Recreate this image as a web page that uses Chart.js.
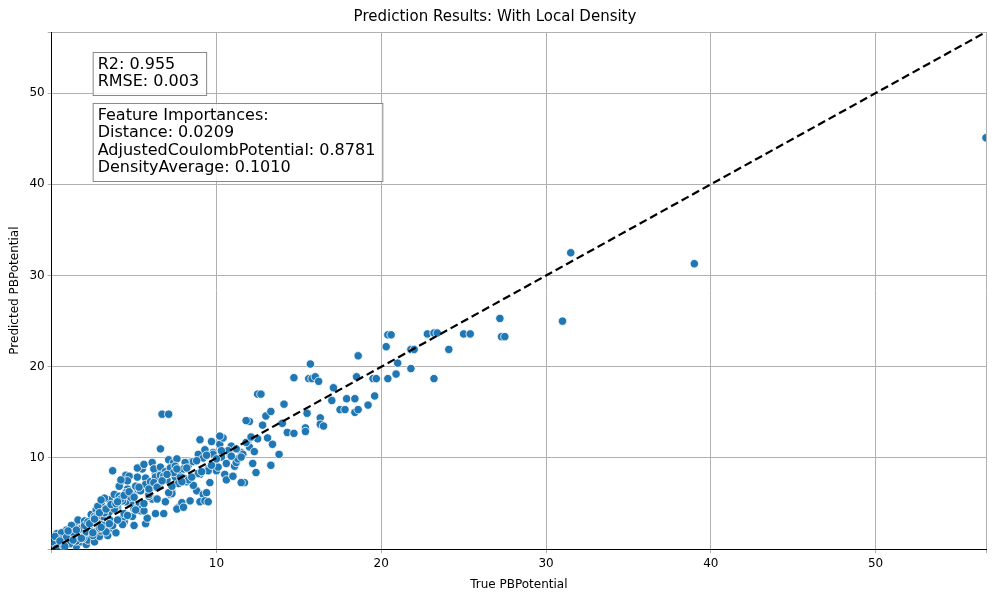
<!DOCTYPE html>
<html>
<head>
<meta charset="utf-8">
<script src="https://cdn.jsdelivr.net/npm/chart.js@4.4.0/dist/chart.umd.min.js"></script>
<style>
	html, body { margin: 0; padding: 0; background: #fff; }
	#wrap { width: 1000px; height: 600px; }
</style>
</head>
<body>
<div id="wrap"><canvas id="c" width="1000" height="600"></canvas></div>
<script>
// True vs predicted PBPotential
var trueVals = [
	0.2,0.4,0.5,0.7,0.8,1.0,1.1,1.2,1.3,1.5,1.6,1.7,1.8,1.9,2.0,2.1,2.2,2.3,2.4,2.5,
	0.3,0.6,0.9,1.1,1.4,1.6,1.9,2.2,2.4,2.6,2.7,2.8,2.9,3.0,3.1,3.2,3.3,3.4,3.5,3.6,
	2.6,2.8,3.0,3.2,3.4,3.6,3.8,4.0,4.2,4.4,4.6,4.8,5.0,5.2,5.4,3.7,3.9,4.1,4.3,4.5,
	4.1,4.3,4.5,4.7,4.9,5.1,5.3,5.5,5.7,5.9,6.1,6.3,4.4,4.6,4.8,5.0,5.2,5.6,5.8,6.0,
	5.5,5.7,5.9,6.1,6.3,6.5,6.7,6.9,7.1,7.3,7.5,7.7,6.2,6.4,6.6,6.8,7.0,7.2,7.4,7.6,
	7.0,7.3,7.6,7.9,8.2,8.5,8.8,9.1,7.8,8.0,8.3,8.6,8.9,9.2,9.5,9.8,8.1,8.4,8.7,9.0,
	9.3,9.6,9.9,10.2,10.5,10.8,11.1,9.4,9.7,10.0,10.3,10.6,10.9,11.2,11.5,10.1,10.4,10.7,11.0,11.3,
	11.6,11.9,12.2,12.5,11.7,12.0,12.3,12.8,13.1,13.4,9.0,9.3,9.5,5.6,5.9,2.0,1.2,0.6,3.0,4.2,
	0.1,0.3,0.5,0.7,0.9,1.1,1.3,1.5,1.7,1.9,2.1,2.3,2.5,2.7,2.9,3.1,3.3,3.5,3.7,3.9,
	0.2,0.5,0.8,1.0,1.3,1.5,1.8,2.0,2.2,2.5,2.7,3.0,3.2,3.5,3.8,4.0,4.3,4.6,4.9,5.1,
	2.3,2.6,2.9,3.3,3.6,3.9,4.2,4.5,4.8,5.1,5.4,5.7,6.0,6.3,6.6,6.9,7.2,7.5,7.8,8.1,
	4.0,4.4,4.7,5.0,5.3,5.6,5.9,6.2,6.5,6.8,7.1,7.4,7.7,8.0,8.3,8.6,8.9,9.2,9.5,9.8,
	6.4,6.7,7.0,7.3,7.6,7.9,8.2,8.5,8.8,9.1,9.4,9.7,10.0,10.3,10.6,10.9,11.2,11.5,11.8,12.1,
	6.7,7.1,6.6,9.0,10.2,11.5,12.4,12.5,12.7,12.0,11.8,13.0,13.3,13.3,13.8,14.0,14.1,14.3,14.7,14.7,
	15.4,15.4,15.5,15.6,15.7,15.8,16.0,16.2,16.3,16.3,16.5,17.0,17.1,17.5,17.8,17.9,18.4,18.4,18.5,18.6,
	18.6,19.2,19.5,19.6,19.7,20.3,20.4,20.4,20.6,20.9,21.0,21.8,21.8,22.0,22.8,23.2,23.2,23.4,24.1,25.0,
	25.4,27.2,27.3,27.5,31.0,31.5,39.0,56.7
];
var predVals = [
	0.5,1.2,0.2,1.6,0.4,1.0,2.0,0.6,1.5,0.3,2.4,1.2,0.8,2.7,1.6,0.5,2.9,1.3,2.0,3.4,
	1.7,0.3,2.1,0.7,2.6,3.2,2.4,1.0,3.8,0.8,4.3,2.1,1.4,5.0,3.3,2.6,4.4,1.5,5.4,3.1,
	3.6,4.7,2.0,5.6,3.9,2.3,6.0,4.6,7.4,3.0,6.6,5.0,2.6,7.9,4.2,8.6,1.8,5.8,3.4,8.1,
	6.9,2.7,5.2,8.0,3.6,6.4,4.8,8.8,2.8,7.1,5.5,8.3,3.9,7.5,6.1,4.4,8.9,9.3,3.4,6.7,
	4.5,7.8,5.8,9.5,3.9,7.0,8.4,5.2,9.8,6.3,7.9,4.6,8.8,5.5,9.0,3.9,7.6,6.0,9.5,4.4,
	8.6,6.1,9.9,5.1,7.4,9.6,6.4,10.3,8.0,4.6,9.2,7.0,10.4,6.0,8.8,10.6,7.7,5.3,9.6,8.2,
	10.9,7.3,9.4,11.5,8.2,10.5,9.1,6.2,11.8,8.6,10.1,7.6,11.3,9.5,10.6,9.0,12.2,10.8,8.0,9.9,
	10.4,11.6,9.4,12.1,7.3,11.2,10.7,13.6,12.2,11.5,5.2,5.3,5.2,4.2,6.0,3.1,2.6,1.8,5.4,7.6,
	0.8,0.1,1.1,0.4,1.3,0.6,1.8,0.9,2.2,1.2,1.9,2.8,1.5,3.2,2.3,3.6,1.9,4.1,2.6,4.6,
	1.4,0.9,0.3,2.0,1.0,2.1,1.2,2.6,3.0,1.8,3.5,2.4,4.0,2.8,4.4,3.2,5.3,3.7,5.9,4.3,
	2.8,3.3,4.0,4.4,4.9,5.0,5.5,6.2,5.7,6.9,6.4,7.1,7.4,7.9,8.1,8.5,8.9,9.1,8.7,9.5,
	5.2,5.9,6.3,5.7,6.8,5.0,6.6,7.3,6.9,8.0,6.2,8.4,7.2,8.8,7.6,9.6,8.3,10.0,8.6,10.4,
	6.8,7.5,8.2,6.9,8.8,7.4,8.9,7.9,9.7,8.5,10.3,9.2,9.9,10.8,9.4,10.2,11.0,10.1,11.7,12.3,
	14.8,14.8,11.0,12.0,12.4,7.3,8.4,17.0,17.0,14.0,14.1,14.6,15.1,9.2,10.4,13.8,15.9,12.8,18.8,12.7,
	13.3,12.9,14.9,18.7,20.3,18.7,18.9,18.4,14.4,13.7,13.5,16.3,17.7,15.3,15.3,16.5,15.0,16.5,18.9,21.2,
	15.3,15.8,18.7,16.8,18.7,22.2,23.5,18.7,23.5,19.2,20.4,19.8,21.9,21.9,23.6,18.7,23.7,23.7,21.9,23.6,
	23.6,25.3,23.3,23.3,25.0,32.5,31.3,45.1
];
var axisMax = 56.7;
var chartTitle = 'Prediction Results: With Local Density';
var statLines = ['R2: 0.955', 'RMSE: 0.003'];
var importanceLines = ['Feature Importances:', 'Distance: 0.0209', 'AdjustedCoulombPotential: 0.8781', 'DensityAverage: 0.1010'];

var points = trueVals.map(function(x, i) { return { x: x, y: predVals[i] }; });

// Matplotlib-style text boxes, placed relative to the plot area
var textBoxes = {
	id: 'textBoxes',
	afterDatasetsDraw: function(chart) {
		var c = chart.ctx, a = chart.chartArea;
		function box(lines, left, top) {
			c.save();
			c.font = '16px "DejaVu Sans"';
			var w = 0;
			lines.forEach(function(l) { w = Math.max(w, c.measureText(l).width); });
			var lh = 17.5, h = lines.length * lh + 8;
			c.fillStyle = 'rgba(255,255,255,0.8)';
			c.fillRect(left, top, w + 12, h);
			c.strokeStyle = '#888';
			c.lineWidth = 1;
			c.strokeRect(left + 0.5, top + 0.5, w + 12, h);
			c.fillStyle = '#000';
			c.textBaseline = 'middle';
			lines.forEach(function(l, i) { c.fillText(l, left + 5, top + 4 + lh * (i + 0.5)); });
			c.restore();
		}
		box(statLines, a.left + 41, a.top + 20);
		box(importanceLines, a.left + 41, a.top + 71);
	}
};

function hideEnds(v) {
	return (v === 0 || v === axisMax) ? '' : v;
}

new Chart(document.getElementById('c'), {
	type: 'scatter',
	data: {
		datasets: [
			{
				data: points,
				backgroundColor: '#1f77b4',
				borderColor: '#ffffff',
				borderWidth: 0.8,
				pointRadius: 4.2,
				order: 2
			},
			{
				type: 'line',
				data: [{ x: 0, y: 0 }, { x: axisMax, y: axisMax }],
				borderColor: '#000',
				borderWidth: 2.2,
				borderDash: [8, 4],
				pointRadius: 0,
				fill: false,
				order: 1
			}
		]
	},
	options: {
		responsive: false,
		animation: false,
		layout: { padding: { left: 4, right: 14, top: 2, bottom: 4 } },
		plugins: {
			legend: { display: false },
			tooltip: { enabled: false },
			title: {
				display: true,
				text: chartTitle,
				color: '#000',
				font: { family: 'DejaVu Sans', size: 15, weight: 'normal' },
				padding: { top: 6, bottom: 6 }
			}
		},
		scales: {
			x: {
				type: 'linear',
				min: 0,
				max: axisMax,
				grid: { color: '#b0b0b0', tickLength: 4 },
				border: { color: '#000' },
				ticks: { stepSize: 10, color: '#000', font: { family: 'DejaVu Sans', size: 12 }, callback: hideEnds },
				title: { display: true, text: 'True PBPotential', color: '#000', font: { family: 'DejaVu Sans', size: 12 } }
			},
			y: {
				type: 'linear',
				min: 0,
				max: axisMax,
				grid: { color: '#b0b0b0', tickLength: 4 },
				border: { color: '#000' },
				ticks: { stepSize: 10, color: '#000', font: { family: 'DejaVu Sans', size: 12 }, callback: hideEnds },
				title: { display: true, text: 'Predicted PBPotential', color: '#000', font: { family: 'DejaVu Sans', size: 12 } }
			}
		}
	},
	plugins: [textBoxes]
});
</script>
</body>
</html>
